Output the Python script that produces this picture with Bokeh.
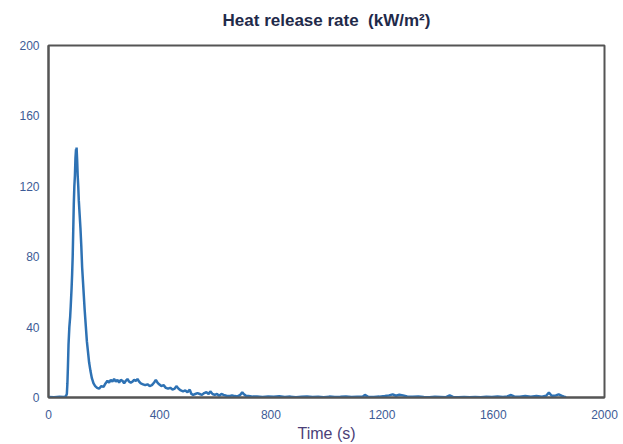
"""Heat release rate curve (cone calorimeter style) redrawn with Bokeh."""

from bokeh.embed import file_html
from bokeh.models import FixedTicker, Range1d, Title
from bokeh.plotting import figure
from bokeh.resources import INLINE

# Time (s)
time_s = [
    0, 20, 40, 55, 62, 66, 68, 70, 72, 75,
    78, 80, 83, 85, 87, 89, 91, 93, 95, 97,
    99, 100, 101, 103, 105, 107, 109, 112, 115, 118,
    121, 124, 127, 130, 134, 138, 142, 146, 151, 156,
    162, 168, 175, 182, 190, 198, 205, 212, 218, 224,
    230, 236, 242, 248, 254, 260, 266, 272, 278, 284,
    290, 296, 302, 308, 314, 320, 326, 332, 340, 348,
    356, 364, 372, 380, 386, 392, 398, 406, 414, 422,
    430, 438, 446, 454, 460, 468, 476, 484, 492, 500,
    508, 514, 520, 528, 536, 544, 552, 560, 568, 576,
    582, 590, 598, 606, 614, 622, 630, 640, 650, 660,
    670, 680, 690, 697, 702, 710, 720, 735, 750, 770,
    790, 810, 830, 850, 870, 890, 910, 930, 950, 970,
    990, 1010, 1030, 1050, 1070, 1090, 1110, 1130, 1138, 1150,
    1170, 1190, 1210, 1225, 1238, 1250, 1262, 1275, 1290, 1310,
    1330, 1350, 1370, 1390, 1410, 1430, 1443, 1455, 1475, 1495,
    1515, 1535, 1555, 1575, 1595, 1615, 1635, 1650, 1664, 1675,
    1695, 1715, 1735, 1755, 1775, 1790, 1800, 1810, 1825, 1835,
    1845, 1855, 1862,
]

# Heat release rate (kW/m2)
hrr = [
    0.3, 0.2, 0.4, 0.3, 0.6, 2, 8, 18, 30, 40,
    46, 52, 62, 70, 80, 95, 110, 120, 126, 136,
    141, 138, 142, 135, 126, 120, 112, 104, 96, 86,
    74, 66, 58, 50, 41, 32, 26, 20, 15, 11,
    8, 6.5, 5.5, 5, 6.5, 6, 8, 9.5, 8.5, 10,
    9, 10.5, 9, 10, 8.5, 10, 9.5, 8, 9.5, 10.5,
    9, 8.5, 9, 10, 9.5, 10.5, 9, 8, 7.5, 7,
    7.5, 6.5, 7, 8.5, 10, 8.5, 7.5, 6.5, 7, 5.5,
    5, 5.5, 4.5, 5, 6.5, 5, 4, 3.5, 4, 3,
    4.5, 2, 1.5, 2, 2.5, 2, 1.5, 2.5, 3, 2,
    3.5, 2, 1.5, 2, 1, 2, 1.5, 1, 0.8, 1.2,
    0.8, 0.6, 1.5, 3, 2, 1, 0.8, 0.5, 0.6, 0.3,
    0.5, 0.4, 0.7, 0.3, 0.5, 0.2, 0.4, 0.6, 0.3, 0.4,
    0.2, 0.5, 0.3, 0.4, 0.6, 0.3, 0.4, 0.5, 1.5, 0.4,
    0.3, 0.5, 0.8, 1.2, 1.8, 1.0, 1.6, 1.2, 0.6, 0.4,
    0.5, 0.3, 0.2, 0.4, 0.3, 0.2, 1.2, 0.3, 0.2, 0.3,
    0.1, 0.3, 0.2, 0.4, 0.3, 0.5, 0.3, 0.6, 1.4, 0.6,
    0.4, 0.8, 0.5, 0.9, 0.5, 1.0, 2.8, 1.0, 1.2, 1.8,
    1.0, 0.5, 0.2,
]

x_ticks = [0, 400, 800, 1200, 1600, 2000]
y_ticks = [0, 40, 80, 120, 160, 200]

FONT = "Liberation Sans"
TICK_COLOR = "#3d5b96"
FRAME_COLOR = "#555555"

p = figure(
    width=623,
    height=444,
    x_range=Range1d(0, 2000),
    y_range=Range1d(0, 200),
    output_backend="svg",
    toolbar_location=None,
    min_border_left=48,
    min_border_right=19,
    min_border_top=45,
    min_border_bottom=43,
)

# Title: an empty spacer title next to the frame pushes the real one up a bit
spacer = Title(text="\u00a0", text_font_size="8px", standoff=0)
title = Title(
    # non-breaking space keeps the wide gap before the unit
    text="Heat release rate \u00a0(kW/m²)",
    align="center",
    text_font=FONT,
    text_font_size="17px",
    text_font_style="bold",
    text_color="#1f2a4a",
)
p.add_layout(spacer, "above")
p.add_layout(title, "above")

# Frame and background
p.outline_line_color = FRAME_COLOR
p.outline_line_width = 2
p.outline_line_alpha = 1
p.xgrid.grid_line_color = None
p.ygrid.grid_line_color = None

# Axes
p.xaxis.ticker = FixedTicker(ticks=x_ticks)
p.yaxis.ticker = FixedTicker(ticks=y_ticks)
p.xaxis.axis_label = "Time (s)"
p.xaxis.axis_label_text_font = FONT
p.xaxis.axis_label_text_font_size = "16px"
p.xaxis.axis_label_text_font_style = "normal"
p.xaxis.axis_label_text_color = "#4b3f78"
p.xaxis.axis_label_standoff = 3
for ax in (p.xaxis, p.yaxis):
    ax.axis_line_color = FRAME_COLOR
    ax.axis_line_width = 2
    ax.major_tick_line_color = None
    ax.minor_tick_line_color = None
    ax.major_label_text_font = FONT
    ax.major_label_text_font_size = "12px"
    ax.major_label_text_color = TICK_COLOR
p.xaxis.major_label_standoff = 6
p.yaxis.major_label_standoff = 3

# The curve
p.line(time_s, hrr, line_color="#2e72b4", line_width=2.5)

open("out.html", "w").write(file_html(p, INLINE))
